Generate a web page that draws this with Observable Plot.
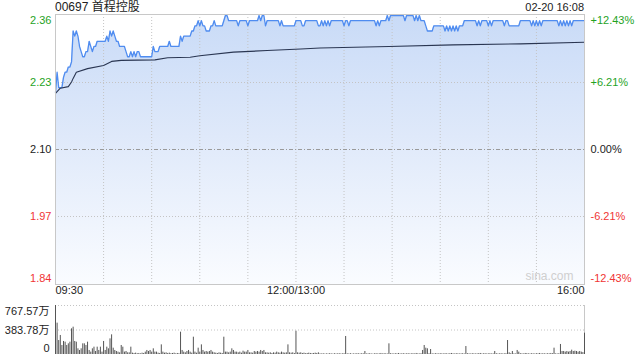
<!DOCTYPE html>
<html><head><meta charset="utf-8">
<script src="https://cdn.jsdelivr.net/npm/d3@7"></script>
<script src="https://cdn.jsdelivr.net/npm/@observablehq/plot@0.6"></script>
<style>
html,body{margin:0;padding:0;background:#fff;}
#wrap{position:relative;width:640px;height:360px;overflow:hidden;font-family:"Liberation Sans",Arial,"Noto Sans CJK SC",sans-serif;}
#title{position:absolute;left:55px;top:0;font-size:12px;color:#222;line-height:14px;white-space:nowrap;}
#date{position:absolute;right:56px;top:0;font-size:11px;color:#222;line-height:14px;white-space:nowrap;}
#main{position:absolute;left:0;top:0;}
#vol{position:absolute;left:0;top:300px;}
</style></head><body>
<div id="wrap"><div id="main"></div><div id="vol"></div><div id="title">00697 首程控股</div><div id="date">02-20 16:08</div></div>
<script>
// minute-by-minute last price, 09:30 → 16:00 (lunch removed), 331 minutes
const price = [
2.21,2.25,2.22,2.22,2.22,2.24,2.25,2.25,2.26,2.26,
2.27,2.33,2.32,2.33,2.32,2.30,2.29,2.28,2.28,2.29,
2.29,2.31,2.30,2.29,2.30,2.30,2.31,2.31,2.31,2.31,
2.31,2.31,2.32,2.31,2.33,2.32,2.33,2.32,2.31,2.31,
2.30,2.30,2.30,2.30,2.29,2.28,2.28,2.29,2.28,2.29,
2.28,2.29,2.29,2.28,2.28,2.28,2.28,2.28,2.28,2.28,
2.28,2.30,2.29,2.29,2.29,2.30,2.30,2.30,2.30,2.30,
2.30,2.31,2.30,2.30,2.30,2.30,2.30,2.30,2.32,2.31,
2.32,2.32,2.32,2.32,2.32,2.33,2.33,2.34,2.34,2.35,
2.34,2.35,2.34,2.34,2.33,2.33,2.33,2.34,2.34,2.35,
2.34,2.34,2.34,2.34,2.34,2.35,2.36,2.36,2.35,2.35,
2.35,2.35,2.35,2.35,2.34,2.35,2.35,2.35,2.35,2.35,
2.34,2.35,2.35,2.35,2.35,2.35,2.35,2.36,2.35,2.36,
2.36,2.34,2.35,2.35,2.35,2.35,2.35,2.35,2.35,2.35,
2.34,2.35,2.34,2.34,2.34,2.34,2.34,2.34,2.34,2.34,
2.35,2.35,2.35,2.35,2.34,2.34,2.35,2.35,2.35,2.35,
2.35,2.35,2.35,2.35,2.34,2.34,2.35,2.34,2.35,2.34,
2.35,2.34,2.35,2.35,2.35,2.35,2.35,2.35,2.35,2.35,
2.34,2.35,2.35,2.34,2.35,2.35,2.35,2.35,2.35,2.35,
2.35,2.35,2.35,2.35,2.35,2.35,2.35,2.35,2.35,2.35,
2.34,2.35,2.34,2.35,2.35,2.35,2.35,2.36,2.35,2.36,
2.36,2.36,2.36,2.36,2.36,2.36,2.36,2.36,2.35,2.36,
2.36,2.36,2.36,2.36,2.35,2.36,2.35,2.36,2.35,2.35,
2.35,2.34,2.33,2.33,2.33,2.33,2.34,2.34,2.34,2.34,
2.34,2.34,2.34,2.33,2.34,2.33,2.34,2.33,2.34,2.33,
2.34,2.33,2.34,2.34,2.34,2.35,2.35,2.35,2.35,2.35,
2.35,2.35,2.35,2.34,2.35,2.34,2.35,2.35,2.35,2.35,
2.34,2.35,2.34,2.35,2.35,2.35,2.35,2.35,2.35,2.35,
2.34,2.35,2.35,2.34,2.34,2.34,2.34,2.34,2.34,2.34,
2.35,2.35,2.35,2.35,2.35,2.35,2.35,2.34,2.35,2.34,
2.35,2.34,2.35,2.34,2.35,2.35,2.35,2.35,2.35,2.35,
2.35,2.35,2.35,2.35,2.34,2.35,2.34,2.35,2.34,2.35,
2.34,2.35,2.34,2.35,2.35,2.35,2.35,2.35,2.35,2.35,2.35
];
// average price line, read at these minutes
const avgMin = [0,3,8,10,11,13,20,30,35,41,62,70,84,90,111,132,153,165,208,248,290,330];
const avgVal = [2.209,2.219,2.222,2.231,2.238,2.25,2.257,2.263,2.271,2.273,2.274,2.278,2.279,2.282,2.289,2.292,2.295,2.297,2.30,2.303,2.305,2.308];
// volume per minute (万股)
const volume = [
767.57,491,219,298,141,204,193,141,167,193,
402,428,204,193,89,63,89,167,167,141,
193,63,37,89,115,47,115,63,115,37,
204,63,115,89,245,308,99,63,47,37,
26,141,115,37,47,26,26,115,21,16,
21,12,16,10,21,16,37,63,47,63,
37,89,37,37,21,16,151,37,21,26,
16,21,12,16,21,10,16,12,350,63,
37,26,47,63,37,21,271,37,21,99,
37,151,63,37,47,37,47,63,37,26,
21,16,26,21,16,271,37,37,26,37,
89,63,37,37,26,37,21,52,37,37,
63,26,26,21,47,37,47,37,63,47,
63,26,26,21,26,16,26,21,37,26,
21,37,26,21,26,151,26,21,26,16,
365,26,21,26,16,21,12,16,21,16,
12,16,21,16,26,10,8,12,6,10,
8,12,10,6,12,8,10,12,8,10,
12,282,10,8,12,6,10,8,12,10,
8,12,10,47,8,10,12,8,6,10,
12,8,10,16,8,12,10,8,167,12,
10,8,12,10,16,8,10,12,8,10,
12,8,10,12,8,16,10,8,12,63,
141,99,89,12,78,10,8,12,10,8,
12,10,8,12,10,8,12,16,10,8,
12,10,8,10,12,8,125,12,10,8,
12,10,8,10,12,16,8,10,12,8,
10,12,8,10,47,12,8,10,12,8,
10,12,219,26,12,47,10,8,63,37,
12,10,8,16,12,10,8,12,10,8,
12,10,16,8,12,10,8,12,10,16,
12,99,10,8,12,157,47,47,37,47,
37,47,68,47,52,47,37,47,37,30,334
];
const prevClose = 2.10;
const priceTicks = [2.36, 2.23, 2.10, 1.97, 1.84];
const priceTickLabels = ["2.36","2.23","2.10","1.97","1.84"];
const pctTickLabels = ["+12.43%","+6.21%","0.00%","-6.21%","-12.43%"];
const gridMinutes = [30,60,90,120,150,180,210,240,270,300];
const timeTicks = [0,150,330];
const timeLabels = ["09:30","12:00/13:00","16:00"];
const volTicks = [767.57, 383.78, 0];
const volLabels = ["767.57万","383.78万","0"];

const priceData = price.map((p,i)=>({m:i,p}));
const avgData = avgMin.map((m,i)=>({m,v:avgVal[i]}));
const volData = volume.map((v,i)=>({m:i,v}));

const GREEN = "#1fa31f", RED = "#f03535", DARK = "#222";
const colorFor = t => t > prevClose + 1e-9 ? GREEN : (t < prevClose - 1e-9 ? RED : DARK);
const font = '"Liberation Sans", Arial, "Noto Sans CJK SC", sans-serif';
const Y0 = 1.838, Y1 = 2.362;

const labelMarks = [];
priceTicks.forEach((t,i)=>{
  const dy = i===0 ? 5 : (i===priceTicks.length-1 ? -5 : 0);
  labelMarks.push(Plot.text([t], {y:d=>d, text:[priceTickLabels[i]], frameAnchor:"left", textAnchor:"end", dx:-4, dy, fill:colorFor(t)}));
  labelMarks.push(Plot.text([t], {y:d=>d, text:[pctTickLabels[i]], frameAnchor:"right", textAnchor:"start", dx:6, dy, fill:colorFor(t)}));
});
const anchors = ["start","middle","end"];
timeTicks.forEach((m,i)=>{
  labelMarks.push(Plot.text([m], {x:d=>d, text:[timeLabels[i]], frameAnchor:"bottom", textAnchor:anchors[i], dy:9, fill:DARK}));
});

const main = Plot.plot({
  width:640, height:300, marginLeft:55, marginRight:56, marginTop:14, marginBottom:16,
  x:{domain:[0,330], axis:null},
  y:{domain:[Y0,Y1], axis:null},
  style:{fontFamily:font, fontSize:"11px", background:"transparent", overflow:"visible"},
  marks:[
    Plot.areaY(priceData, {x:"m", y1:Y0, y2:"p", fill:"url(#areaGrad)"}),
    Plot.ruleX(gridMinutes, {stroke:"#c4c4c4", strokeDasharray:"1,2"}),
    Plot.ruleY([2.23,1.97], {stroke:"#c4c4c4", strokeDasharray:"1,2"}),
    Plot.ruleY([prevClose], {stroke:"#9a9a9a", strokeDasharray:"4,2,1,2"}),
    Plot.line(priceData, {x:"m", y:"p", stroke:"#4f8cf0", strokeWidth:1.3}),
    Plot.line(avgData, {x:"m", y:"v", stroke:"#2a3652", strokeWidth:1.1}),
    Plot.frame({stroke:"#c8c8c8"}),
    Plot.text(["sina.com"], {text:d=>d, frameAnchor:"bottom-right", textAnchor:"end", dx:-11, dy:-5, fill:"#cfcfcf", fontSize:12}),
    ...labelMarks
  ]
});
const ns = "http://www.w3.org/2000/svg";
const defs = document.createElementNS(ns,"defs");
const grad = document.createElementNS(ns,"linearGradient");
grad.setAttribute("id","areaGrad"); grad.setAttribute("x1","0"); grad.setAttribute("y1","0"); grad.setAttribute("x2","0"); grad.setAttribute("y2","1");
[["0%","#c9dbf7"],["45%","#dfe9fa"],["100%","#fafcff"]].forEach(([o,c])=>{
  const s = document.createElementNS(ns,"stop"); s.setAttribute("offset",o); s.setAttribute("stop-color",c); grad.appendChild(s);
});
defs.appendChild(grad); main.insertBefore(defs, main.firstChild);
document.getElementById("main").appendChild(main);

const volLabelMarks = volTicks.map((t,i)=>Plot.text([t], {y:d=>d, text:[volLabels[i]], frameAnchor:"left", textAnchor:"end", dx:-6, dy: i===0?6:(i===volTicks.length-1?-6:0), fill:"#222"}));
const vol = Plot.plot({
  width:640, height:60, marginLeft:55, marginRight:56, marginTop:5, marginBottom:6,
  x:{domain:[0,330], axis:null},
  y:{domain:[0,767.57], axis:null},
  style:{fontFamily:font, fontSize:"11px", background:"transparent", overflow:"visible"},
  marks:[
    Plot.ruleY([767.57,383.78], {stroke:"#c4c4c4", strokeDasharray:"1,2"}),
    Plot.ruleX([0,330], {stroke:"#c8c8c8"}),
    Plot.ruleX(volData, {x:"m", y1:0, y2:"v", stroke:"#555"}),
    ...volLabelMarks
  ]
});
document.getElementById("vol").appendChild(vol);
</script>
</body></html>
